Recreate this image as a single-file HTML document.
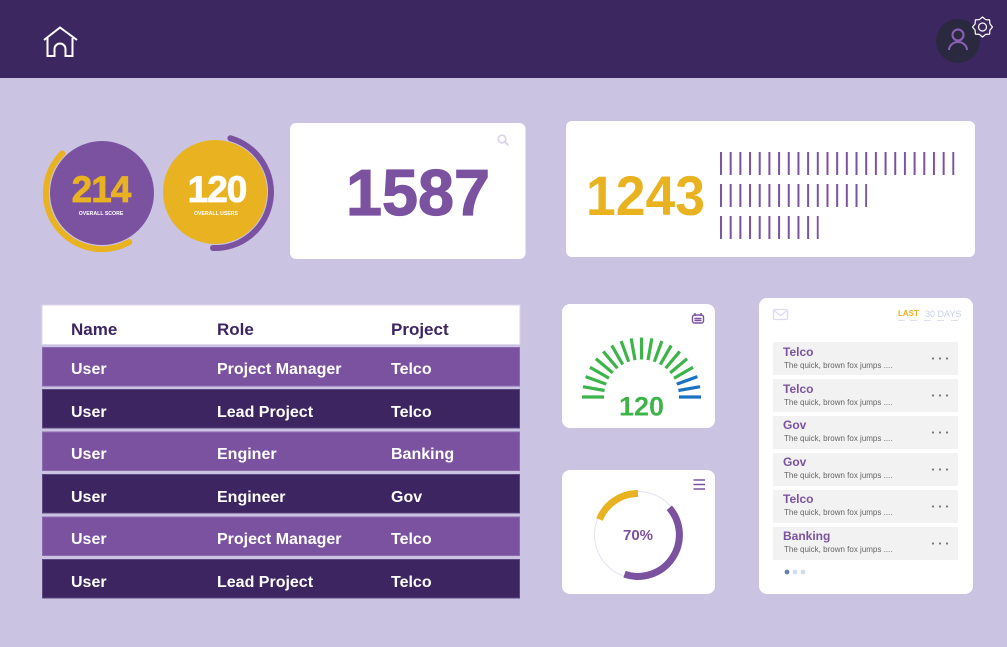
<!DOCTYPE html>
<html><head><meta charset="utf-8">
<style>
html,body{margin:0;padding:0;background:#cbc3e2;}
svg{display:block;}
text{font-family:"Liberation Sans",sans-serif;}
</style></head>
<body>
<svg width="1007" height="647" viewBox="0 0 1007 647" xmlns="http://www.w3.org/2000/svg">
<defs>
<pattern id="bars" patternUnits="userSpaceOnUse" x="720" y="0" width="9.68" height="10">
<rect x="0" y="0" width="2" height="10" fill="#7b52a0"/>
</pattern>
</defs>
<rect x="0" y="0" width="1007" height="647" fill="#cbc3e2"/>
<!-- header -->
<rect x="0" y="0" width="1007" height="78" fill="#3d2761"/>
<g fill="none" stroke="#ffffff" stroke-width="2" stroke-linejoin="miter">
<path d="M44,40 L60,27.5 L77,40"/>
<path d="M47.5,38 V56 H54.5 V49 a5.5 5.5 0 0 1 11 0 V56 H72.5 V38"/>
</g>
<circle cx="958" cy="41" r="22" fill="#2b2940"/>
<g fill="none" stroke="#8a60b8" stroke-width="2">
<circle cx="958" cy="35" r="5.5"/>
<path d="M949,50 a9 8 0 0 1 18 0"/>
</g>
<g fill="none" stroke="#ffffff" stroke-width="1.2" stroke-linejoin="round">
<polygon points="992.5,27 989.9,30.1 989.6,34.1 985.6,34.4 982.5,37 979.4,34.4 975.4,34.1 975.1,30.1 972.5,27 975.1,23.9 975.4,19.9 979.4,19.6 982.5,17 985.6,19.6 989.6,19.9 989.9,23.9"/>
<circle cx="982.5" cy="27" r="4"/>
</g>

<!-- circle 1 -->
<circle cx="102" cy="193" r="52" fill="#7b52a0"/>
<path d="M62.4,153.4 A56 56 0 0 0 129.2,242" fill="none" stroke="#e8b220" stroke-width="6" stroke-linecap="round"/>
<text x="101" y="202" text-anchor="middle" font-size="37" font-weight="bold" fill="#e8b220" stroke="#e8b220" stroke-width="0.8" letter-spacing="-1">214</text>
<text x="101" y="215" text-anchor="middle" font-size="5.2" font-weight="bold" fill="#ffffff">OVERALL SCORE</text>
<!-- circle 2 -->
<circle cx="215" cy="192" r="52" fill="#e8b220"/>
<path d="M230.4,138.2 A56 56 0 0 1 213,248" fill="none" stroke="#7b52a0" stroke-width="6" stroke-linecap="round"/>
<text x="217" y="202" text-anchor="middle" font-size="37" font-weight="bold" fill="#ffffff" stroke="#ffffff" stroke-width="0.8" letter-spacing="-1">120</text>
<text x="216" y="215" text-anchor="middle" font-size="5.2" font-weight="bold" fill="#ffffff">OVERALL USERS</text>

<!-- 1587 card -->
<rect x="290" y="123" width="235.5" height="136" rx="6" fill="#ffffff"/>
<g fill="none" stroke="#d9d1ec" stroke-width="1.6">
<circle cx="502" cy="139" r="3.8"/>
<path d="M505,142 L508.5,145.5"/>
</g>
<text x="346" y="215" font-size="65" font-weight="bold" fill="#7b52a0" stroke="#7b52a0" stroke-width="1.2" textLength="144" lengthAdjust="spacingAndGlyphs">1587</text>

<!-- 1243 card -->
<rect x="566" y="121" width="409" height="136" rx="6" fill="#ffffff"/>
<text x="586" y="215" font-size="56" font-weight="bold" fill="#e8b220" textLength="119" lengthAdjust="spacingAndGlyphs">1243</text>
<rect x="720" y="152" width="234.4" height="23" fill="url(#bars)"/>
<rect x="720" y="184" width="147.2" height="23" fill="url(#bars)"/>
<rect x="720" y="216" width="98.8" height="23" fill="url(#bars)"/>

<!-- table -->
<rect x="42" y="305" width="478" height="39.5" fill="#ffffff" stroke="#ddd6ec" stroke-width="1"/>
<g font-size="17" font-weight="bold" fill="#3d2561">
<text x="71" y="335">Name</text>
<text x="217" y="335">Role</text>
<text x="391" y="335">Project</text>
</g>
<g stroke-width="1">
<rect x="42.5" y="347.5" width="477" height="38.5" fill="#7b52a0" stroke="#8d6ab0"/>
<rect x="42.5" y="389.5" width="477" height="38.5" fill="#3d2561" stroke="#5c4880"/>
<rect x="42.5" y="432" width="477" height="38.5" fill="#7b52a0" stroke="#8d6ab0"/>
<rect x="42.5" y="474.5" width="477" height="38.5" fill="#3d2561" stroke="#5c4880"/>
<rect x="42.5" y="517" width="477" height="38.5" fill="#7b52a0" stroke="#8d6ab0"/>
<rect x="42.5" y="559.5" width="477" height="38.5" fill="#3d2561" stroke="#5c4880"/>
</g>
<g font-size="16" font-weight="bold" fill="#ffffff">
<text x="71" y="374">User</text><text x="217" y="374">Project Manager</text><text x="391" y="374">Telco</text>
<text x="71" y="417">User</text><text x="217" y="417">Lead Project</text><text x="391" y="417">Telco</text>
<text x="71" y="459">User</text><text x="217" y="459">Enginer</text><text x="391" y="459">Banking</text>
<text x="71" y="502">User</text><text x="217" y="502">Engineer</text><text x="391" y="502">Gov</text>
<text x="71" y="544">User</text><text x="217" y="544">Project Manager</text><text x="391" y="544">Telco</text>
<text x="71" y="587">User</text><text x="217" y="587">Lead Project</text><text x="391" y="587">Telco</text>
</g>

<!-- gauge card -->
<rect x="562" y="304" width="153" height="124" rx="8" fill="#ffffff"/>
<g fill="none" stroke="#7b52a0" stroke-width="1.4">
<rect x="692.5" y="315" width="11" height="8" rx="2"/>
<path d="M695,313 V316 M701,313 V316 M694.5,318.5 H701.5 M694.5,320.5 H701.5"/>
</g>
<g stroke-width="3.2" stroke="#3cb44a">
<line x1="582" y1="397" x2="604" y2="397" transform="rotate(0 641.5 397)"/>
<line x1="582" y1="397" x2="604" y2="397" transform="rotate(10 641.5 397)"/>
<line x1="582" y1="397" x2="604" y2="397" transform="rotate(20 641.5 397)"/>
<line x1="582" y1="397" x2="604" y2="397" transform="rotate(30 641.5 397)"/>
<line x1="582" y1="397" x2="604" y2="397" transform="rotate(40 641.5 397)"/>
<line x1="582" y1="397" x2="604" y2="397" transform="rotate(50 641.5 397)"/>
<line x1="582" y1="397" x2="604" y2="397" transform="rotate(60 641.5 397)"/>
<line x1="582" y1="397" x2="604" y2="397" transform="rotate(70 641.5 397)"/>
<line x1="582" y1="397" x2="604" y2="397" transform="rotate(80 641.5 397)"/>
<line x1="582" y1="397" x2="604" y2="397" transform="rotate(90 641.5 397)"/>
<line x1="582" y1="397" x2="604" y2="397" transform="rotate(100 641.5 397)"/>
<line x1="582" y1="397" x2="604" y2="397" transform="rotate(110 641.5 397)"/>
<line x1="582" y1="397" x2="604" y2="397" transform="rotate(120 641.5 397)"/>
<line x1="582" y1="397" x2="604" y2="397" transform="rotate(130 641.5 397)"/>
<line x1="582" y1="397" x2="604" y2="397" transform="rotate(140 641.5 397)"/>
<line x1="582" y1="397" x2="604" y2="397" transform="rotate(150 641.5 397)"/>
<line x1="582" y1="397" x2="604" y2="397" transform="rotate(160 641.5 397)" stroke="#1a72c2"/>
<line x1="582" y1="397" x2="604" y2="397" transform="rotate(170 641.5 397)" stroke="#1a72c2"/>
<line x1="582" y1="397" x2="604" y2="397" transform="rotate(180 641.5 397)" stroke="#1a72c2"/>
</g>
<text x="641.5" y="415.5" text-anchor="middle" font-size="27" font-weight="bold" fill="#3cb44a">120</text>

<!-- donut card -->
<rect x="562" y="470" width="153" height="124" rx="8" fill="#ffffff"/>
<g stroke="#7b52a0" stroke-width="1.5">
<line x1="693.5" y1="480" x2="705" y2="480"/>
<line x1="693.5" y1="484.5" x2="705" y2="484.5"/>
<line x1="693.5" y1="489" x2="705" y2="489"/>
</g>
<circle cx="638" cy="535" r="43.5" fill="none" stroke="#e4e2f2" stroke-width="1"/>
<path d="M638,493.5 A41.5 41.5 0 0 0 599.5,519.4" fill="none" stroke="#e8b220" stroke-width="7"/>
<path d="M669.3,507.8 A41.5 41.5 0 0 1 624.5,574.2" fill="none" stroke="#7b52a0" stroke-width="7"/>
<text x="638" y="540" text-anchor="middle" font-size="15" font-weight="bold" fill="#7b52a0">70%</text>

<!-- list card -->
<rect x="759" y="298" width="214" height="296" rx="8" fill="#ffffff"/>
<g fill="none" stroke="#dcdcf0" stroke-width="1.3">
<rect x="773.5" y="309.5" width="14" height="10" rx="1.5"/>
<path d="M774,310.5 L780.5,315.5 L787,310.5"/>
</g>
<text x="898" y="316" font-size="8" font-weight="bold" fill="#e8b220">LAST</text>
<text x="925" y="317" font-size="9" fill="#c9cfe8">30 DAYS</text>
<g stroke="#dde0f0" stroke-width="1">
<line x1="898" y1="320.5" x2="905" y2="320.5"/><line x1="910" y1="320.5" x2="917" y2="320.5"/>
<line x1="924" y1="320.5" x2="931" y2="320.5"/><line x1="937" y1="320.5" x2="944" y2="320.5"/><line x1="951" y1="320.5" x2="958" y2="320.5"/>
</g>
<g fill="#f2f2f2">
<rect x="773" y="342" width="185" height="33"/>
<rect x="773" y="379" width="185" height="33"/>
<rect x="773" y="416" width="185" height="33"/>
<rect x="773" y="453" width="185" height="33"/>
<rect x="773" y="490" width="185" height="33"/>
<rect x="773" y="527" width="185" height="33"/>
</g>
<g font-size="12" font-weight="bold" fill="#7b52a0">
<text x="783" y="356">Telco</text>
<text x="783" y="393">Telco</text>
<text x="783" y="429">Gov</text>
<text x="783" y="466">Gov</text>
<text x="783" y="503">Telco</text>
<text x="783" y="540">Banking</text>
</g>
<g font-size="8" fill="#666666">
<text x="784" y="368">The quick, brown fox jumps ....</text>
<text x="784" y="405">The quick, brown fox jumps ....</text>
<text x="784" y="441">The quick, brown fox jumps ....</text>
<text x="784" y="478">The quick, brown fox jumps ....</text>
<text x="784" y="515">The quick, brown fox jumps ....</text>
<text x="784" y="552">The quick, brown fox jumps ....</text>
</g>
<g fill="#777777">
<circle cx="933" cy="358.5" r="1.1"/><circle cx="940" cy="358.5" r="1.1"/><circle cx="947" cy="358.5" r="1.1"/>
<circle cx="933" cy="395.5" r="1.1"/><circle cx="940" cy="395.5" r="1.1"/><circle cx="947" cy="395.5" r="1.1"/>
<circle cx="933" cy="432.5" r="1.1"/><circle cx="940" cy="432.5" r="1.1"/><circle cx="947" cy="432.5" r="1.1"/>
<circle cx="933" cy="469.5" r="1.1"/><circle cx="940" cy="469.5" r="1.1"/><circle cx="947" cy="469.5" r="1.1"/>
<circle cx="933" cy="506.5" r="1.1"/><circle cx="940" cy="506.5" r="1.1"/><circle cx="947" cy="506.5" r="1.1"/>
<circle cx="933" cy="543.5" r="1.1"/><circle cx="940" cy="543.5" r="1.1"/><circle cx="947" cy="543.5" r="1.1"/>
</g>
<circle cx="787" cy="572" r="2.4" fill="#6b7fa8"/>
<circle cx="795" cy="572" r="2.4" fill="#d3dbee"/>
<circle cx="803" cy="572" r="2.4" fill="#d3dbee"/>
</svg>
</body></html>
